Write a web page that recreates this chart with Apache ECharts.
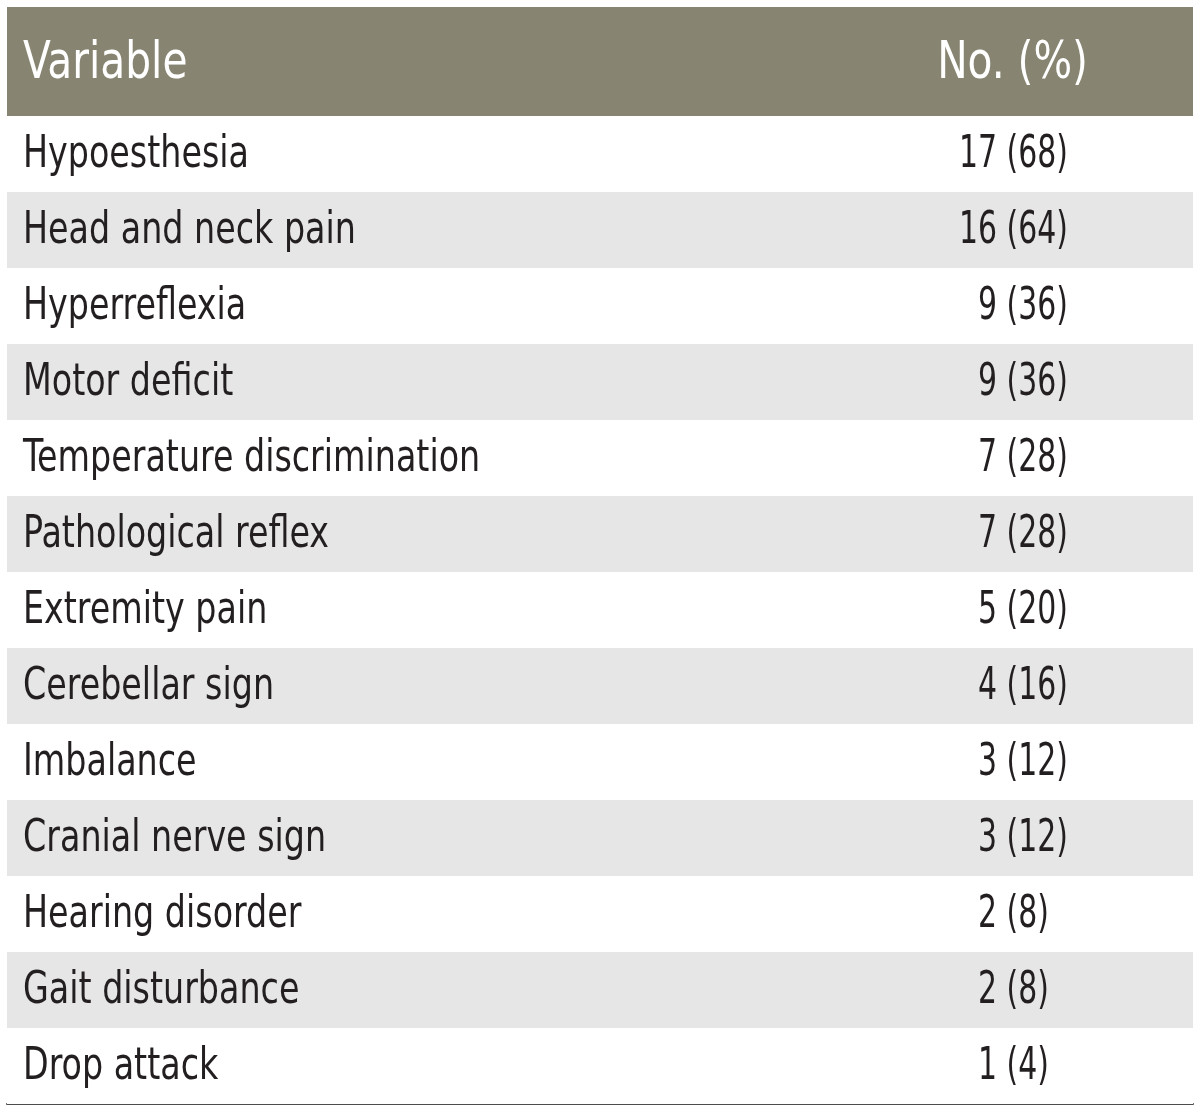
<!DOCTYPE html>
<html>
<head>
<meta charset="utf-8">
<script src="https://cdn.jsdelivr.net/npm/echarts@6/dist/echarts.min.js"></script>
<style>
html,body{margin:0;padding:0;background:#fff;}
#chart{width:1200px;height:1113px;}
</style>
</head>
<body>
<div id="chart"></div>
<script>
const headers = ['Variable', 'No. (%)'];
const variables = ['Hypoesthesia','Head and neck pain','Hyperreflexia','Motor deficit','Temperature discrimination','Pathological reflex','Extremity pain','Cerebellar sign','Imbalance','Cranial nerve sign','Hearing disorder','Gait disturbance','Drop attack'];
const counts = [17,16,9,9,7,7,5,4,3,3,2,2,1];
const percents = [68,64,36,36,28,28,20,16,12,12,8,8,4];

const FONT = "'Liberation Sans Narrow','DejaVu Sans Condensed','Arial Narrow',sans-serif";
const TEXT_COLOR = '#231f20';
const HEADER_BG = '#878572';
const STRIPE = '#e6e6e6';

const chart = echarts.init(document.getElementById('chart'), null, {renderer:'canvas'});

const rows = variables.map((v, i) => [0, i, counts[i], percents[i]]);

chart.setOption({
  backgroundColor: '#ffffff',
  animation: false,
  grid: {left: 7, right: 7, top: 116, bottom: 9, containLabel: false},
  xAxis: {
    type: 'value', min: 0, max: 1, position: 'bottom',
    axisLine: {show: true, onZero: false, lineStyle: {color: '#4d4d4d', width: 2}},
    axisTick: {show: false}, axisLabel: {show: false}, splitLine: {show: false}
  },
  yAxis: {
    type: 'category', inverse: true, data: variables,
    axisLine: {show: false}, axisTick: {show: false}, axisLabel: {show: false}, splitLine: {show: false}
  },
  graphic: [
    {type: 'rect', x: 7, y: 7, shape: {width: 1186, height: 109}, style: {fill: HEADER_BG}, z: 0},
    {type: 'text', x: 23, y: 64, scaleX: 0.87, style: {text: headers[0], fill: '#ffffff', font: '52px ' + FONT, textAlign: 'left', textVerticalAlign: 'middle'}, z: 2},
    {type: 'text', x: 1088, y: 64, scaleX: 0.87, style: {text: headers[1], fill: '#ffffff', font: '52px ' + FONT, textAlign: 'right', textVerticalAlign: 'middle'}, z: 2}
  ],
  series: [{
    type: 'custom',
    coordinateSystem: 'cartesian2d',
    encode: {x: 0, y: 1},
    data: rows,
    renderItem: function (params, api) {
      const idx = api.value(1);
      const cs = params.coordSys;
      const center = api.coord([0, idx]);
      const h = api.size([0, 1])[1];
      const cy = center[1];
      const pct = api.value(3);
      const valText = api.value(2) + ' (' + pct + ')' + (pct < 10 ? '{h|0}' : '');
      return {
        type: 'group',
        children: [
          {type: 'rect', shape: {x: cs.x, y: cy - h / 2, width: cs.width, height: h},
           style: {fill: idx % 2 === 1 ? STRIPE : '#ffffff'}},
          {type: 'text', x: cs.x + 16, y: cy + 1.5, scaleX: 0.842,
           style: {text: variables[idx], fill: TEXT_COLOR, font: '44px ' + FONT, textAlign: 'left', textVerticalAlign: 'middle'}},
          {type: 'text', x: cs.x + 1061, y: cy + 1.5, scaleX: 0.756,
           style: {text: valText, fill: TEXT_COLOR, font: '44px ' + FONT, textAlign: 'right', textVerticalAlign: 'middle',
                   rich: {h: {fill: 'rgba(0,0,0,0)', font: '44px ' + FONT}}}}
        ]
      };
    },
    z: 1
  }]
});
</script>
</body>
</html>
